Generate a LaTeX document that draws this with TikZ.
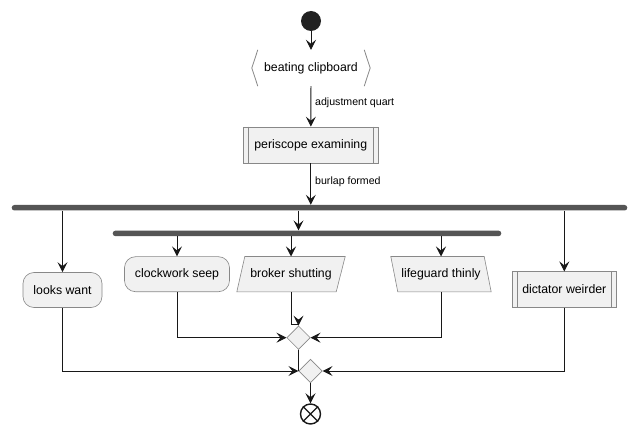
\documentclass[tikz,border=0pt]{standalone}
\usepackage{fontspec}
\setmainfont{Liberation Sans}
\usetikzlibrary{arrows.meta,shapes.geometric,calc,backgrounds}
\definecolor{boxfill}{HTML}{F1F1F1}
\definecolor{boxline}{HTML}{888888}
\definecolor{ink}{HTML}{181818}
\definecolor{startcol}{HTML}{222222}
\definecolor{barcol}{HTML}{555555}
\begin{document}
\begin{tikzpicture}[x=1pt,y=-1pt,
  font=\fontsize{12.3}{14}\selectfont,
  box/.style={draw=boxline, fill=boxfill, line width=0.6pt, inner sep=0pt, minimum height=35pt, text=black},
  rbox/.style={box, rounded corners=11pt},
  plain/.style={inner sep=0pt, minimum height=35pt},
  shapeline/.style={draw=boxline, fill=boxfill, line width=0.6pt},
  conn/.style={draw=ink, line width=0.9pt},
  arr/.style={conn, -{Stealth[length=10pt,width=10pt,inset=4pt]}},
  bar/.style={fill=barcol, draw=none, rounded corners=2.75pt, minimum height=5.5pt, inner sep=0pt},
  lbl/.style={font=\fontsize{10.6}{12}\selectfont, anchor=west, inner sep=0pt},
  dia/.style={diamond, draw=boxline, fill=boxfill, line width=0.6pt, minimum size=23.5pt, inner sep=0pt},
]
% nodes
\node[circle, fill=startcol, minimum size=20pt, inner sep=0pt] (start) at (311,21) {};
\node[plain, minimum width=118pt, minimum height=36pt] (clip) at (311,68) {beating clipboard};
\node[box, minimum width=135pt, minimum height=36pt] (peri) at (310.8,145) {periscope examining};
\node[bar, minimum width=615.6pt] (bar1) at (319.5,207.75) {};
\node[bar, minimum width=388.6pt] (bar2) at (307,233.4) {};
\node[rbox, minimum width=79pt, minimum height=35pt] (looks) at (62.5,290) {looks want};
\node[rbox, minimum width=105pt] (clock) at (177,274.2) {clockwork seep};
\node[plain, minimum width=108pt] (broker) at (291,274.2) {broker shutting};
\node[plain, minimum width=100pt] (life) at (441,274.2) {lifeguard thinly};
\node[box, minimum width=104pt, minimum height=35.6pt] (dict) at (564.3,289.5) {dictator weirder};
\node[dia] (d1) at (298.5,337.7) {};
\node[dia] (d2) at (310.5,371) {};
\node[circle, draw=ink, line width=1.4pt, minimum size=20pt, inner sep=0pt] (end) at (310.5,414) {};
\draw[ink, line width=1.4pt] (end.45) -- (end.225) (end.135) -- (end.315);
\node[lbl] (lab1) at (315,103) {adjustment quart};
\node[lbl] (lab2) at (315,181.5) {burlap formed};

% shape details
\begin{scope}[on background layer]
\fill[white] (0,0) rectangle (638,433);
\path[shapeline] ($(broker.north west)+(8,0)$) -- (broker.north east) -- ($(broker.south east)+(-9,0)$) -- (broker.south west) -- cycle;
\path[shapeline] (life.north west) -- ($(life.north east)+(-7,0)$) -- (life.south east) -- ($(life.south west)+(7,0)$) -- cycle;
\end{scope}
\draw[draw=boxline, line width=0.8pt] ($(clip.north west)+(6,0)$) -- (clip.west) -- ($(clip.south west)+(6,0)$);
\draw[draw=boxline, line width=0.8pt] ($(clip.north east)+(-6,0)$) -- (clip.east) -- ($(clip.south east)+(-6,0)$);
\draw[draw=boxline, line width=0.6pt] ($(peri.north west)+(5,0)$) -- ($(peri.south west)+(5,0)$);
\draw[draw=boxline, line width=0.6pt] ($(peri.north east)+(-5,0)$) -- ($(peri.south east)+(-5,0)$);
\draw[draw=boxline, line width=0.6pt] ($(dict.north west)+(5.5,0)$) -- ($(dict.south west)+(5.5,0)$);
\draw[draw=boxline, line width=0.6pt] ($(dict.north east)+(-5.5,0)$) -- ($(dict.south east)+(-5.5,0)$);

% connectors
\coordinate (j) at (298.5,220);
\draw[arr] (start) -- (clip);
\draw[arr] (clip) -- (peri);
\draw[arr] (peri) -- (peri.south |- bar1.north);
\draw[arr] (j |- bar1.south) -- (j |- bar2.north);
\draw[arr] (looks.north |- bar1.south) -- (looks.north);
\draw[arr] (dict.north |- bar1.south) -- (dict.north);
\draw[arr] (clock.north |- bar2.south) -- (clock.north);
\draw[arr] (broker.north |- bar2.south) -- (broker.north);
\draw[arr] (life.north |- bar2.south) -- (life.north);
\draw[arr] (clock.south) |- (d1.west);
\draw[arr] (broker.south) |- ($(d1.north)+(0,-1.5)$) -- (d1.north);
\draw[arr] (life.south) |- (d1.east);
\draw[conn] (d1.south) -- (d2.west);
\draw[arr] (looks.south) |- (d2.west);
\draw[arr] (dict.south) |- (d2.east);
\draw[arr] (d2.south) -- (end.north);
\end{tikzpicture}
\end{document}
